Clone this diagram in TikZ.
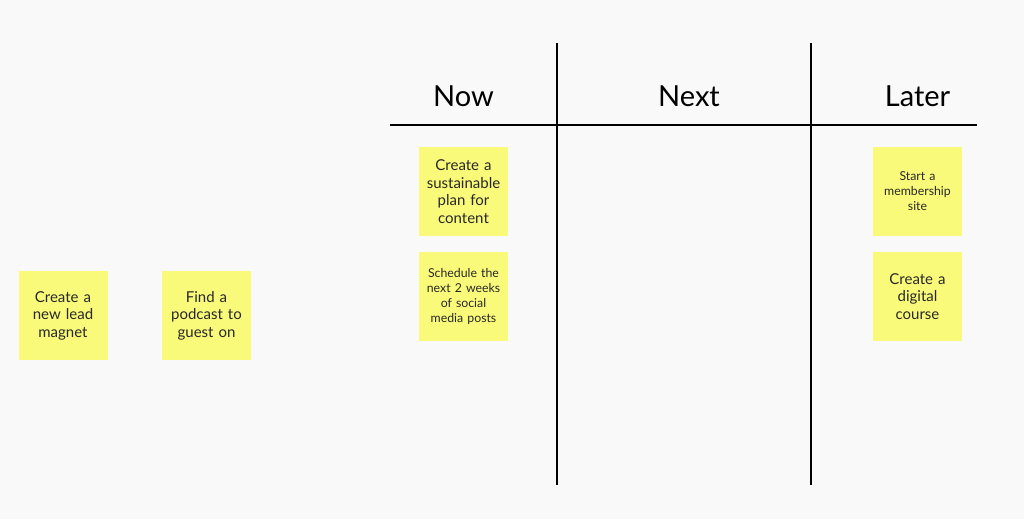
\documentclass[tikz,border=0pt]{standalone}
\usepackage{fontspec}
\setmainfont{Lato}
\definecolor{boardbg}{RGB}{249,249,249}
\definecolor{notey}{RGB}{250,250,122}
\definecolor{notetext}{RGB}{40,40,40}
\tikzset{
  sticky/.style={fill=notey, minimum width=89pt, minimum height=89pt, inner sep=0pt,
    text width=86pt, align=center, text=notetext, font=\fontsize{15}{17.5}\selectfont},
  smallsticky/.style={sticky, font=\fontsize{12.3}{15}\selectfont},
  colhead/.style={font=\fontsize{29}{32}\selectfont, text=black},
  rule/.style={line width=2pt, black}
}
\begin{document}
\begin{tikzpicture}[x=1pt,y=-1pt]
        \fill[boardbg] (0,0) rectangle (1024,519);
        \useasboundingbox (0,0) rectangle (1024,519);
        \coordinate (hl) at (390,125);
        \coordinate (hr) at (977,125);
        \coordinate (v1t) at (557,43);
        \coordinate (v1b) at (557,485);
        \coordinate (v2t) at (811,43);
        \coordinate (v2b) at (811,485);
        \draw[rule] (hl) -- (hr);
        \draw[rule] (v1t) -- (v1b);
        \draw[rule] (v2t) -- (v2b);
        \node[colhead] (now) at (463.5,96.5) {Now};
        \node[colhead] (next) at (689,96.5) {Next};
        \node[colhead] (later) at (917.5,96.5) {Later};
        \node[sticky] (lead) at (63,315.5) {Create a\\new lead\\magnet};
        \node[sticky] (podcast) at (206.5,315.5) {Find a\\podcast to\\guest on};
        \node[sticky] (plan) at (463.5,191.5) {Create a\\sustainable\\plan for\\content};
        \node[smallsticky] (social) at (463.5,296.5) {Schedule the\\next 2 weeks\\of social\\media posts};
        \node[smallsticky] (member) at (917.5,191.5) {Start a\\membership\\site};
        \node[sticky] (course) at (917.5,296.5) {Create a\\digital\\course};
      \end{tikzpicture}
\end{document}
